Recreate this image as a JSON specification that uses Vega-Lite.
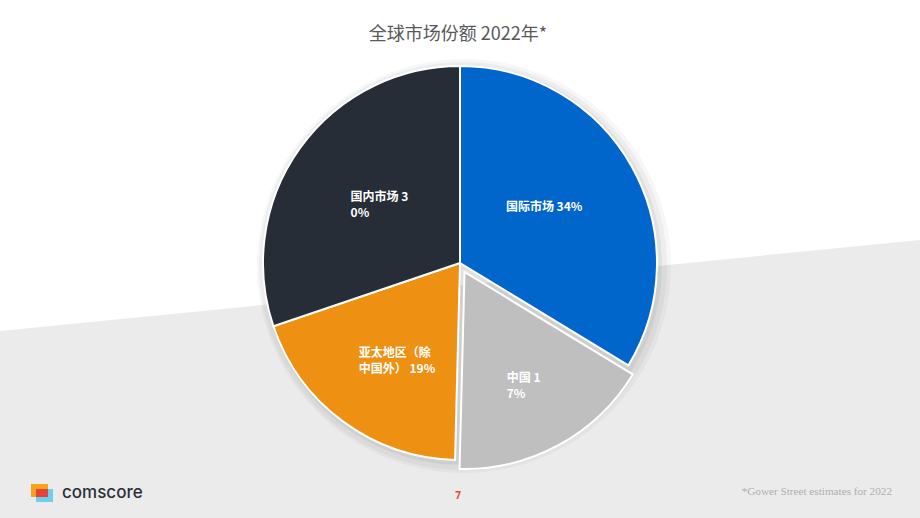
{
  "$schema": "https://vega.github.io/schema/vega-lite/v6.json",
  "autosize": "none",
  "width": 920,
  "height": 510,
  "padding": {"top": 8, "left": 0, "right": 0, "bottom": 0},
  "background": "white",
  "title": {"text": "全球市场份额 2022年*", "anchor": "middle", "font": "Noto Sans CJK SC", "fontSize": 18, "fontWeight": "normal", "color": "#595959", "baseline": "top", "offset": 0, "dy": 36, "dx": -2},
  "config": {"view": {"stroke": null}},
  "data": {"values": [
    {"region": "国际市场", "share": 33.7, "idx": 1, "label": "国际市场 34%"},
    {"region": "中国", "share": 16.7, "idx": 2, "label": "中国 1\n7%"},
    {"region": "亚太地区（除中国外）", "share": 19.4, "idx": 3, "label": "亚太地区（除\n中国外） 19%"},
    {"region": "国内市场", "share": 30.2, "idx": 4, "label": "国内市场 3\n0%"}
  ]},
  "layer": [
    {
      "data": {"values": [{}]},
      "mark": {"type": "point", "shape": "square", "filled": true, "fill": "#EBEBEB", "opacity": 1, "strokeWidth": 0, "size": 4000000, "angle": -5.65},
      "encoding": {"x": {"value": 558.4}, "y": {"value": 1272.6}}
    },
    {
      "data": {"values": [{}]},
      "mark": {"type": "arc", "theta": 0, "theta2": 6.2832, "outerRadius": 207, "fill": "#000000", "fillOpacity": 0.03, "xOffset": 4, "yOffset": 3},
      "encoding": {}
    },
    {
      "data": {"values": [{}]},
      "mark": {"type": "arc", "theta": 0, "theta2": 6.2832, "outerRadius": 204, "fill": "#000000", "fillOpacity": 0.04, "xOffset": 3, "yOffset": 3},
      "encoding": {}
    },
    {
      "data": {"values": [{}]},
      "mark": {"type": "arc", "theta": 0, "theta2": 6.2832, "outerRadius": 200, "fill": "#000000", "fillOpacity": 0.05, "xOffset": 2, "yOffset": 2},
      "encoding": {}
    },
    {
      "mark": {"type": "arc", "outerRadius": 197, "stroke": "white", "strokeWidth": 2},
      "encoding": {
        "theta": {"field": "share", "type": "quantitative", "stack": true},
        "color": {"field": "region", "type": "nominal", "scale": {"domain": ["国际市场", "中国", "亚太地区（除中国外）", "国内市场"], "range": ["#0066CC", "#BFBFBF", "#EE9012", "#262D37"]}, "legend": null},
        "order": {"field": "idx", "type": "quantitative"},
        "opacity": {"condition": {"test": "datum.region === '中国'", "value": 0}, "value": 1}
      }
    },
    {
      "mark": {"type": "arc", "outerRadius": 197, "stroke": "white", "strokeWidth": 2, "xOffset": 4.5, "yOffset": 9},
      "encoding": {
        "theta": {"field": "share", "type": "quantitative", "stack": true},
        "color": {"field": "region", "type": "nominal", "legend": null},
        "order": {"field": "idx", "type": "quantitative"},
        "opacity": {"condition": {"test": "datum.region === '中国'", "value": 1}, "value": 0}
      }
    },
    {
      "mark": {"type": "text", "radius": 110, "align": "left", "baseline": "middle", "dx": -50, "dy": -2, "font": "Noto Sans CJK SC", "fontSize": 12, "fontWeight": "bold", "fill": "white", "lineBreak": "\n", "lineHeight": 16},
      "encoding": {
        "theta": {"field": "share", "type": "quantitative", "stack": true},
        "detail": {"field": "region", "type": "nominal"},
        "order": {"field": "idx", "type": "quantitative"},
        "text": {"condition": {"test": "datum.region === '国际市场'", "field": "label", "type": "nominal"}, "value": ""}
      }
    },
    {
      "mark": {"type": "text", "radius": 110, "align": "left", "baseline": "middle", "dx": -20, "dy": -1.5, "font": "Noto Sans CJK SC", "fontSize": 12, "fontWeight": "bold", "fill": "white", "lineBreak": "\n", "lineHeight": 16},
      "encoding": {
        "theta": {"field": "share", "type": "quantitative", "stack": true},
        "detail": {"field": "region", "type": "nominal"},
        "order": {"field": "idx", "type": "quantitative"},
        "text": {"condition": {"test": "datum.region === '国内市场'", "field": "label", "type": "nominal"}, "value": ""}
      }
    },
    {
      "mark": {"type": "text", "radius": 110, "align": "left", "baseline": "middle", "dx": -36, "dy": 1.5, "font": "Noto Sans CJK SC", "fontSize": 12, "fontWeight": "bold", "fill": "white", "lineBreak": "\n", "lineHeight": 16},
      "encoding": {
        "theta": {"field": "share", "type": "quantitative", "stack": true},
        "detail": {"field": "region", "type": "nominal"},
        "order": {"field": "idx", "type": "quantitative"},
        "text": {"condition": {"test": "datum.region === '亚太地区（除中国外）'", "field": "label", "type": "nominal"}, "value": ""}
      }
    },
    {
      "mark": {"type": "text", "radius": 110, "align": "left", "baseline": "middle", "dx": -6, "dy": 18, "font": "Noto Sans CJK SC", "fontSize": 12, "fontWeight": "bold", "fill": "white", "lineBreak": "\n", "lineHeight": 16},
      "encoding": {
        "theta": {"field": "share", "type": "quantitative", "stack": true},
        "detail": {"field": "region", "type": "nominal"},
        "order": {"field": "idx", "type": "quantitative"},
        "text": {"condition": {"test": "datum.region === '中国'", "field": "label", "type": "nominal"}, "value": ""}
      }
    },
    {
      "data": {"values": [{}]},
      "mark": {"type": "rect", "fill": "#F7A21B"},
      "encoding": {"x": {"value": 31}, "x2": {"value": 48}, "y": {"value": 476}, "y2": {"value": 489}}
    },
    {
      "data": {"values": [{}]},
      "mark": {"type": "rect", "fill": "#6CD0EC"},
      "encoding": {"x": {"value": 36}, "x2": {"value": 53}, "y": {"value": 481}, "y2": {"value": 494}}
    },
    {
      "data": {"values": [{}]},
      "mark": {"type": "rect", "fill": "#E8403A"},
      "encoding": {"x": {"value": 36}, "x2": {"value": 48}, "y": {"value": 481}, "y2": {"value": 489}}
    },
    {
      "data": {"values": [{"t": "comscore"}]},
      "mark": {"type": "text", "align": "left", "baseline": "alphabetic", "font": "Inter", "fontSize": 17, "fontWeight": 500, "fill": "#2B2F3A"},
      "encoding": {"x": {"value": 62}, "y": {"value": 490}, "text": {"field": "t"}}
    },
    {
      "data": {"values": [{"t": "7"}]},
      "mark": {"type": "text", "align": "center", "baseline": "alphabetic", "font": "Noto Sans", "fontSize": 10, "fontWeight": "bold", "fill": "#E8453C"},
      "encoding": {"x": {"value": 458}, "y": {"value": 491}, "text": {"field": "t"}}
    },
    {
      "data": {"values": [{"t": "*Gower Street estimates for 2022"}]},
      "mark": {"type": "text", "align": "right", "baseline": "alphabetic", "font": "Liberation Serif", "fontSize": 11.2, "fill": "#AFAFAF"},
      "encoding": {"x": {"value": 892}, "y": {"value": 487}, "text": {"field": "t"}}
    }
  ]
}
